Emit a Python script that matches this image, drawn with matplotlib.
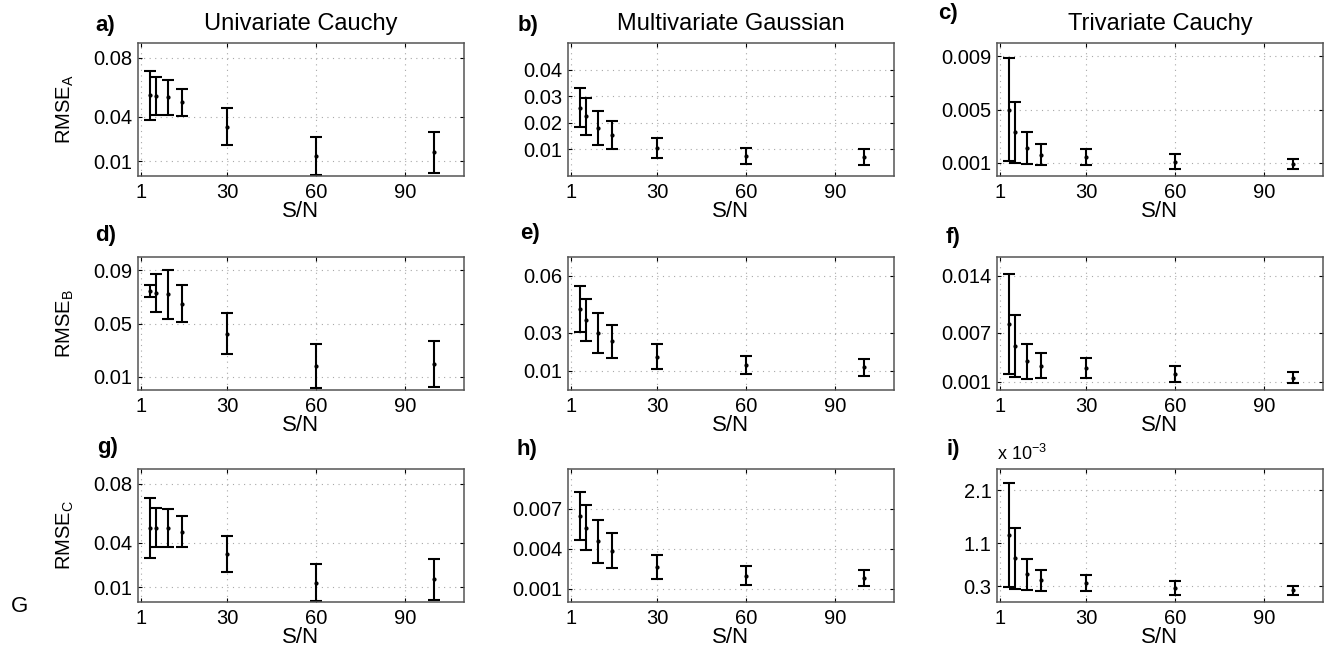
import matplotlib
matplotlib.use("Agg")
import matplotlib.pyplot as plt
from matplotlib.ticker import FixedLocator, FixedFormatter

"""
RMSE versus S/N for three distributions (columns) and
three parameters A, B, C (rows). 3 x 3 grid of errorbar panels.
"""

# S/N levels (same for every panel)
snr = [4, 6, 10, 15, 30, 60, 100]

# Column 1 - Univariate Cauchy
a_mean = [0.0546, 0.0541, 0.0532, 0.0498, 0.0334, 0.0138, 0.0160]
a_err = [0.0166, 0.0128, 0.0118, 0.0092, 0.0124, 0.0128, 0.0140]
d_mean = [0.0743, 0.0731, 0.0719, 0.0650, 0.0423, 0.0180, 0.0198]
d_err = [0.0044, 0.0141, 0.0186, 0.0138, 0.0154, 0.0163, 0.0173]
g_mean = [0.0502, 0.0503, 0.0499, 0.0477, 0.0322, 0.0130, 0.0153]
g_err = [0.0205, 0.0132, 0.0130, 0.0106, 0.0122, 0.0126, 0.0137]

# Column 2 - Multivariate Gaussian
b_mean = [0.0257, 0.0224, 0.0182, 0.0154, 0.0105, 0.0076, 0.0070]
b_err = [0.0074, 0.0068, 0.0064, 0.0051, 0.0039, 0.0030, 0.0030]
e_mean = [0.0425, 0.0368, 0.0301, 0.0256, 0.0176, 0.0130, 0.0120]
e_err = [0.0122, 0.0112, 0.0105, 0.0088, 0.0065, 0.0048, 0.0045]
h_mean = [0.00647, 0.00560, 0.00455, 0.00387, 0.00265, 0.00197, 0.00180]
h_err = [0.0018, 0.0017, 0.0016, 0.0013, 0.0009, 0.0007, 0.0006]

# Column 3 - Trivariate Cauchy
c_mean = [0.0050, 0.0033, 0.0021, 0.0016, 0.0014, 0.00107, 0.0009]
c_err = [0.0039, 0.0023, 0.0012, 0.0008, 0.0006, 0.00056, 0.0004]
f_mean = [0.0081, 0.0054, 0.0035, 0.0030, 0.0027, 0.0020, 0.0015]
f_err = [0.0061, 0.0038, 0.0021, 0.0015, 0.0012, 0.0010, 0.0007]
i_mean = [0.00126, 0.00082, 0.00052, 0.000405, 0.00036, 0.00027, 0.00022]
i_err = [0.00097, 0.00057, 0.00029, 0.000205, 0.00015, 0.00013, 0.00008]

# Axis ticks
x_ticks = [1, 30, 60, 90]
x_labels = ["1", "30", "60", "90"]

a_ticks = [0.01, 0.04, 0.08]
b_ticks = [0.01, 0.02, 0.03, 0.04]
c_ticks = [0.001, 0.005, 0.009]
d_ticks = [0.01, 0.05, 0.09]
e_ticks = [0.01, 0.03, 0.06]
f_ticks = [0.001, 0.007, 0.014]
g_ticks = [0.01, 0.04, 0.08]
h_ticks = [0.001, 0.004, 0.007]
i_ticks = [0.0003, 0.0011, 0.0021]

a_labels = ["0.01", "0.04", "0.08"]
b_labels = ["0.01", "0.02", "0.03", "0.04"]
c_labels = ["0.001", "0.005", "0.009"]
d_labels = ["0.01", "0.05", "0.09"]
e_labels = ["0.01", "0.03", "0.06"]
f_labels = ["0.001", "0.007", "0.014"]
g_labels = ["0.01", "0.04", "0.08"]
h_labels = ["0.001", "0.004", "0.007"]
i_labels = ["0.3", "1.1", "2.1"]

y_tops = [0.09, 0.05, 0.01, 0.10, 0.07, 0.0163, 0.09, 0.01, 0.0025]

col_titles = ["Univariate Cauchy", "Multivariate Gaussian", "Trivariate Cauchy"]
row_ylabels = ["RMSE$_A$", "RMSE$_B$", "RMSE$_C$"]
panel_tags = ["a)", "b)", "c)", "d)", "e)", "f)", "g)", "h)", "i)"]

# Fonts
plt.rcParams["font.family"] = ["Liberation Sans", "DejaVu Sans"]
plt.rcParams["mathtext.default"] = "regular"

# Figure in pixel units
W, H = 1329, 645
fig = plt.figure(figsize=(W / 100, H / 100), dpi=100)


def px(x, y):
    # pixel position -> figure fraction
    return x / W, 1 - y / H


col_left = [138, 568, 997]
row_top = [43, 257, 469]
ax_w, ax_h = 326, 133

# panel tag positions (pixels, left / vertical centre)
tag_x = [95, 518, 938, 95, 520, 946, 97, 517, 947]
tag_y = [25, 25, 14, 235, 233, 237, 447, 450, 450]

means = [a_mean, b_mean, c_mean, d_mean, e_mean, f_mean, g_mean, h_mean, i_mean]
errs = [a_err, b_err, c_err, d_err, e_err, f_err, g_err, h_err, i_err]
yticks = [a_ticks, b_ticks, c_ticks, d_ticks, e_ticks, f_ticks, g_ticks, h_ticks, i_ticks]
ylabels = [a_labels, b_labels, c_labels, d_labels, e_labels, f_labels, g_labels, h_labels, i_labels]

for k in range(9):
    r, c = divmod(k, 3)
    left, top = col_left[c], row_top[r]
    ax = fig.add_axes([left / W, 1 - (top + ax_h) / H, ax_w / W, ax_h / H])

    # error bars
    ax.errorbar(snr, means[k], yerr=errs[k], fmt=".", color="black",
                ecolor="black", markersize=4, elinewidth=1.5,
                capsize=4.5, capthick=1.5)

    ax.set_xlim(0, 110)
    ax.set_ylim(0, y_tops[k])
    ax.xaxis.set_major_locator(FixedLocator(x_ticks))
    ax.xaxis.set_major_formatter(FixedFormatter(x_labels))
    ax.yaxis.set_major_locator(FixedLocator(yticks[k]))
    ax.yaxis.set_major_formatter(FixedFormatter(ylabels[k]))

    # MATLAB-like box and dotted grid
    ax.grid(True, linestyle=(0, (1, 4)), color="#a8a8a8", linewidth=0.8)
    ax.tick_params(direction="in", top=True, right=True, length=3,
                   width=0.8, labelsize=14.5, colors="black")
    ax.tick_params(axis="x", pad=5)
    ax.tick_params(axis="y", pad=4)
    for sp in ax.spines.values():
        sp.set_color("#555555")
        sp.set_linewidth(1.1)

    ax.set_xlabel("S/N", fontsize=16, labelpad=-1)

    if c == 0:
        ax.text(-0.224, 0.5, row_ylabels[r], transform=ax.transAxes,
                rotation=90, ha="center", va="center", fontsize=14.5)

    if r == 0:
        tx, ty = px(left + ax_w / 2, 24)
        fig.text(tx, ty, col_titles[c], ha="center", va="center", fontsize=17)

    lx, ly = px(tag_x[k], tag_y[k])
    fig.text(lx, ly, panel_tags[k], ha="left", va="center",
             fontsize=16, fontweight="bold")

    # exponent note for the last panel
    if k == 8:
        ax.text(0.0, 1.04, r"x 10$^{-3}$", transform=ax.transAxes,
                ha="left", va="bottom", fontsize=13)

# stray letter at bottom left of the original figure
gx, gy = px(20, 606)
fig.text(gx, gy, "G", ha="center", va="center", fontsize=16)

fig.savefig("out.png", dpi=100, facecolor="white")
plt.close(fig)
